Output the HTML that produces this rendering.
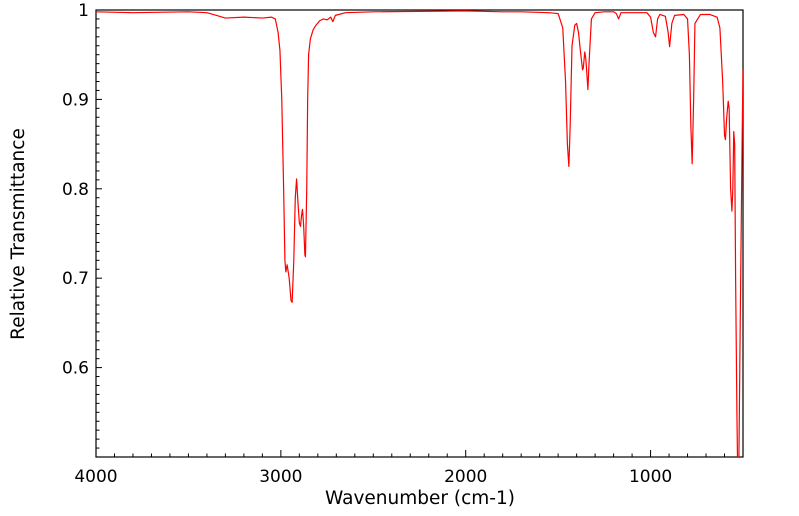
<!DOCTYPE html>
<html><head><meta charset="utf-8"><style>
html,body{margin:0;padding:0;background:#fff;}
svg{display:block;font-family:"DejaVu Sans","Liberation Sans",sans-serif;}
</style></head><body>
<svg id="chart" width="799" height="516" viewBox="0 0 799 516" xmlns="http://www.w3.org/2000/svg">
<defs><clipPath id="clip"><rect x="96" y="10" width="647" height="447"/></clipPath></defs>
<g id="axes"></g>
<g id="series" clip-path="url(#clip)"></g>
<text x="420" y="504" text-anchor="middle" font-size="18.5">Wavenumber (cm-1)</text>
<text transform="translate(24,234) rotate(-90)" text-anchor="middle" font-size="18.5">Relative Transmittance</text>
</svg>
<script>
const wavenumbers = [4000,3800,3500,3400,3350,3300,3200,3100,3050,3030,3015,3005,2995,2985,2978,2973,2966,2955,2945,2939,2930,2922,2915,2906,2900,2894,2888,2883,2877,2870,2867,2860,2855,2850,2840,2825,2810,2790,2770,2750,2730,2719,2705,2650,2500,2000,1800,1700,1550,1500,1475,1460,1450,1442,1435,1425,1410,1400,1390,1380,1368,1364,1356,1350,1339,1333,1320,1300,1250,1200,1185,1173,1160,1100,1020,1000,985,973,962,950,920,905,897,885,870,820,800,790,782,775,767,760,730,680,640,625,610,600,595,588,580,575,567,560,555,550,545,540,533,528,522,515,505,500];
const transmittance = [0.998,0.997,0.998,0.997,0.994,0.991,0.992,0.991,0.992,0.99,0.975,0.955,0.90,0.80,0.72,0.707,0.715,0.70,0.675,0.673,0.72,0.79,0.811,0.78,0.762,0.758,0.77,0.777,0.76,0.726,0.724,0.80,0.90,0.95,0.968,0.978,0.983,0.988,0.99,0.989,0.992,0.987,0.994,0.997,0.998,0.999,0.998,0.998,0.997,0.996,0.98,0.92,0.85,0.825,0.87,0.96,0.983,0.985,0.975,0.955,0.933,0.935,0.953,0.945,0.911,0.94,0.99,0.997,0.998,0.998,0.996,0.99,0.997,0.997,0.997,0.992,0.975,0.97,0.99,0.995,0.993,0.975,0.959,0.985,0.994,0.995,0.99,0.95,0.87,0.828,0.90,0.985,0.995,0.995,0.992,0.98,0.92,0.86,0.855,0.88,0.898,0.89,0.80,0.775,0.80,0.864,0.85,0.70,0.55,0.47,0.50,0.65,0.85,0.933];
const xTicks = [4000,3000,2000,1000];
const yTicks = [0.6,0.7,0.8,0.9,1];
const yTickLabels = ["0.6","0.7","0.8","0.9","1"];

const L=96,R=743,T=10,B=457;
const xMax=4000,xMin=500,yMin=0.5,yMax=1.0;
const xs=v=>L+(xMax-v)/(xMax-xMin)*(R-L);
const ys=v=>B-(v-yMin)/(yMax-yMin)*(B-T);
const NS="http://www.w3.org/2000/svg";
const axes=document.getElementById('axes');
function mk(tag,attrs,parent){const e=document.createElementNS(NS,tag);for(const k in attrs)e.setAttribute(k,attrs[k]);parent.appendChild(e);return e;}

const frame=mk('rect',{x:L,y:T,width:R-L,height:B-T,fill:'none',stroke:'#000','stroke-width':1.2},axes);



for(let w=4000;w>=xMin;w-=100){
  const major=w%1000===0;
  const t=mk('line',{x1:xs(w),x2:xs(w),y1:B,y2:B-(major?7:3.5),stroke:'#000','stroke-width':1},axes);
  
  
}
xTicks.forEach(w=>{
  const t=mk('text',{x:xs(w),y:482,'text-anchor':'middle','font-size':17},axes);
  t.textContent=String(w);
  
  
});
for(let i=50;i<=100;i++){
  const v=i/100,major=i%10===0;
  const t=mk('line',{x1:L,x2:L+(major?6:3.5),y1:ys(v),y2:ys(v),stroke:'#000','stroke-width':1},axes);
  
  
}
yTicks.forEach((v,i)=>{
  const t=mk('text',{x:89,y:ys(v)+6,'text-anchor':'end','font-size':17},axes);
  t.textContent=yTickLabels[i];
  
  
});

const pts=wavenumbers.map((w,i)=>xs(w).toFixed(2)+','+ys(transmittance[i]).toFixed(2)).join(' ');
const line=mk('polyline',{points:pts,fill:'none',stroke:'#ff0000','stroke-width':1.2,'stroke-linejoin':'round'},document.getElementById('series'));


</script>
</body></html>
